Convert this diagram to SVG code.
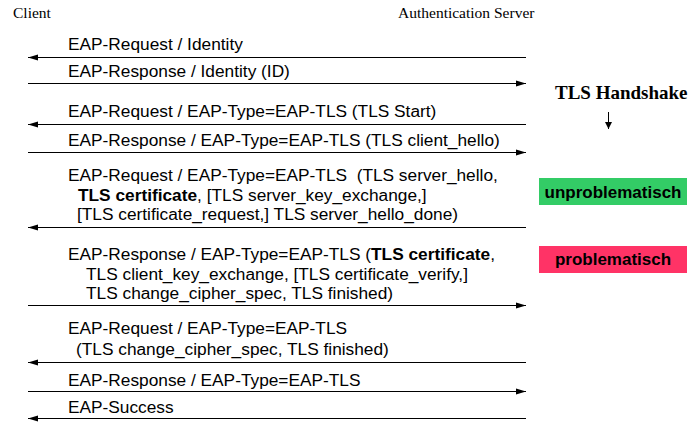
<svg xmlns="http://www.w3.org/2000/svg" width="688" height="422" viewBox="0 0 688 422">
<defs>
<marker id="ah" markerUnits="userSpaceOnUse" markerWidth="11" markerHeight="8" refX="10" refY="3.5" orient="auto">
<path d="M0,0.5 L10,3.5 L0,6.5 Z" fill="#000"/>
</marker>
<marker id="ahs" markerUnits="userSpaceOnUse" markerWidth="8" markerHeight="8" refX="7" refY="3.5" orient="auto">
<path d="M0,0 L7,3.5 L0,7 Z" fill="#000"/>
</marker>
</defs>
<style>
.hd{font-family:"Liberation Serif","Times New Roman",serif;font-size:15.5px;fill:#000}
.t{font-family:"Liberation Sans",Arial,sans-serif;font-size:17.3px;fill:#000;white-space:pre}
.b{font-weight:bold}
.msg{stroke:#000;stroke-width:1;fill:none;marker-end:url(#ah)}
.tag{font-family:"Liberation Sans",Arial,sans-serif;font-size:17px;font-weight:bold;fill:#000;text-anchor:middle}
</style>
<rect width="688" height="422" fill="#fff"/>
<g id="client"><text class="hd" x="13" y="18">Client</text></g>
<g id="server"><text class="hd" x="398" y="18">Authentication Server</text></g>
<g id="connectors">
<line class="msg" x1="526" y1="57.5" x2="28" y2="57.5"/>
<line class="msg" x1="28" y1="83.5" x2="526" y2="83.5"/>
<line class="msg" x1="526" y1="124.5" x2="28" y2="124.5"/>
<line class="msg" x1="28" y1="152.5" x2="526" y2="152.5"/>
<line class="msg" x1="526" y1="227.5" x2="28" y2="227.5"/>
<line class="msg" x1="28" y1="305.5" x2="526" y2="305.5"/>
<line class="msg" x1="526" y1="362.5" x2="28" y2="362.5"/>
<line class="msg" x1="28" y1="391.5" x2="526" y2="391.5"/>
<line class="msg" x1="526" y1="418.5" x2="28" y2="418.5"/>
<line x1="608.5" y1="112" x2="608.5" y2="129" stroke="#000" stroke-width="1" marker-end="url(#ahs)"/>
</g>
<g id="m1"><text class="t" x="68" y="50">EAP-Request / Identity</text></g>
<g id="m2"><text class="t" x="68" y="77">EAP-Response / Identity (ID)</text></g>
<g id="m3"><text class="t" x="68" y="117">EAP-Request / EAP-Type=EAP-TLS (TLS Start)</text></g>
<g id="m4"><text class="t" x="68" y="146">EAP-Response / EAP-Type=EAP-TLS (TLS client_hello)</text></g>
<g id="m5">
<text class="t" x="68" y="181">EAP-Request / EAP-Type=EAP-TLS  (TLS server_hello,</text>
<text class="t" x="78" y="201"><tspan class="b">TLS certificate</tspan>, [TLS server_key_exchange,]</text>
<text class="t" x="77" y="220">[TLS certificate_request,] TLS server_hello_done)</text>
</g>
<g id="m6">
<text class="t" x="68" y="260">EAP-Response / EAP-Type=EAP-TLS (<tspan class="b">TLS certificate</tspan>,</text>
<text class="t" x="86" y="280">TLS client_key_exchange, [TLS certificate_verify,]</text>
<text class="t" x="86" y="299">TLS change_cipher_spec, TLS finished)</text>
</g>
<g id="m7">
<text class="t" x="68" y="334">EAP-Request / EAP-Type=EAP-TLS</text>
<text class="t" x="76" y="355">(TLS change_cipher_spec, TLS finished)</text>
</g>
<g id="m8"><text class="t" x="68" y="386">EAP-Response / EAP-Type=EAP-TLS</text></g>
<g id="m9"><text class="t" x="68" y="413">EAP-Success</text></g>
<g id="tls-handshake"><text x="555" y="99" font-family="'Liberation Serif','Times New Roman',serif" font-size="19" font-weight="bold">TLS Handshake</text></g>
<g id="unproblematisch">
<rect x="539" y="178" width="148" height="27" fill="#33cc66"/>
<text class="tag" x="613" y="198">unproblematisch</text>
</g>
<g id="problematisch">
<rect x="539" y="246" width="148" height="27" fill="#ff3366"/>
<text class="tag" x="613" y="265">problematisch</text>
</g>
</svg>
